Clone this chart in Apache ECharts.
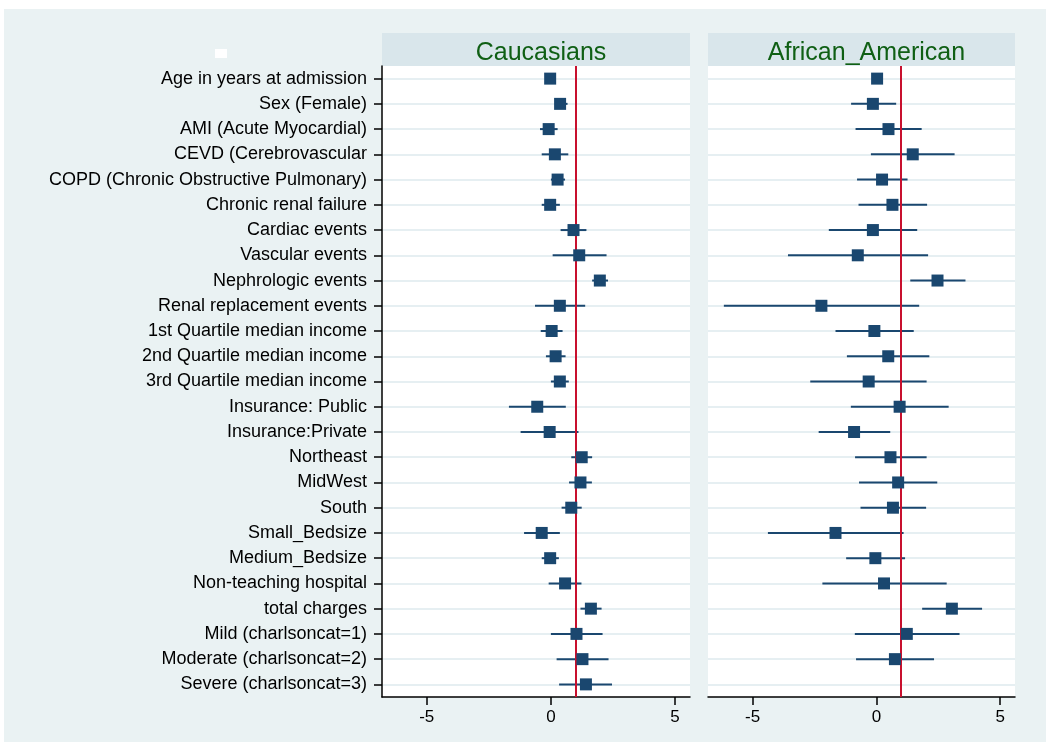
<!DOCTYPE html>
<html>
<head>
<meta charset="utf-8">
<script src="https://cdn.jsdelivr.net/npm/echarts@6/dist/echarts.min.js"></script>
<style>
  html, body { margin: 0; padding: 0; background: #fff; }
  #chart { width: 1050px; height: 749px; }
</style>
</head>
<body>
<div id="chart"></div>
<script>
// row labels, top to bottom
var variables = [
  'Age in years at admission', 'Sex (Female)', 'AMI (Acute Myocardial)', 'CEVD (Cerebrovascular',
  'COPD (Chronic Obstructive Pulmonary)', 'Chronic renal failure', 'Cardiac events', 'Vascular events',
  'Nephrologic events', 'Renal replacement events', '1st Quartile median income', '2nd Quartile median income',
  '3rd Quartile median income', 'Insurance: Public', 'Insurance:Private', 'Northeast', 'MidWest', 'South',
  'Small_Bedsize', 'Medium_Bedsize', 'Non-teaching hospital', 'total charges', 'Mild (charlsoncat=1)',
  'Moderate (charlsoncat=2)', 'Severe (charlsoncat=3)'
];

// Caucasians
var cauEst  = [-0.03, 0.37, -0.09, 0.16, 0.27, -0.03, 0.91, 1.14, 1.97, 0.36, 0.03, 0.19, 0.36, -0.55, -0.05, 1.24, 1.19, 0.82, -0.37, -0.03, 0.57, 1.61, 1.03, 1.27, 1.41];
var cauLow  = [-0.08, 0.16, -0.44, -0.37, 0.00, -0.37, 0.39, 0.07, 1.66, -0.64, -0.41, -0.20, 0.00, -1.69, -1.22, 0.82, 0.73, 0.43, -1.08, -0.37, -0.09, 1.19, 0.00, 0.23, 0.33];
var cauHigh = [0.02, 0.67, 0.27, 0.70, 0.57, 0.36, 1.43, 2.24, 2.30, 1.38, 0.47, 0.59, 0.72, 0.60, 1.11, 1.66, 1.65, 1.24, 0.36, 0.32, 1.23, 2.04, 2.08, 2.32, 2.46];

// African_American (last row not estimated)
var afrEst  = [0.03, -0.14, 0.49, 1.47, 0.23, 0.65, -0.14, -0.75, 2.47, -2.22, -0.08, 0.48, -0.31, 0.94, -0.90, 0.57, 0.88, 0.67, -1.65, -0.04, 0.31, 3.05, 1.23, 0.75, null];
var afrLow  = [-0.02, -1.02, -0.84, -0.22, -0.78, -0.72, -1.92, -3.57, 1.37, -6.16, -1.65, -1.19, -2.67, -1.03, -2.33, -0.86, -0.70, -0.64, -4.38, -1.22, -2.18, 1.85, -0.87, -0.82, null];
var afrHigh = [0.08, 0.80, 1.83, 3.16, 1.26, 2.05, 1.65, 2.09, 3.60, 1.73, 1.51, 2.14, 2.03, 2.92, 0.56, 2.03, 2.46, 2.01, 1.10, 1.16, 2.84, 4.27, 3.36, 2.33, null];

var panelTitles = ['Caucasians', 'African_American'];
var xTicks = [-5, 0, 5];
var refValue = 1;

var navy = '#1a476f';
var font = 'Liberation Sans, Arial, sans-serif';

function ciData(low, high) {
  var out = [];
  for (var i = 0; i < low.length; i++) {
    if (low[i] != null) out.push([low[i], high[i], i]);
  }
  return out;
}
function pointData(est) {
  var out = [];
  for (var i = 0; i < est.length; i++) {
    if (est[i] != null) out.push([est[i], i]);
  }
  return out;
}
function renderCI(params, api) {
  var a = api.coord([api.value(0), api.value(2)]);
  var b = api.coord([api.value(1), api.value(2)]);
  return {
    type: 'line',
    shape: { x1: a[0], y1: a[1], x2: b[0], y2: b[1] },
    style: { stroke: navy, lineWidth: 2 }
  };
}

var panels = [
  { est: cauEst, low: cauLow, high: cauHigh, left: 382, right: 360 },
  { est: afrEst, low: afrLow, high: afrHigh, left: 708, right: 35 }
];

var grids = [], xAxes = [], yAxes = [], series = [], titles = [], strips = [];
panels.forEach(function (p, k) {
  grids.push({
    left: p.left, right: p.right, top: 66, bottom: 52,
    show: true, backgroundColor: '#fff', borderWidth: 0
  });
  xAxes.push({
    gridIndex: k, type: 'value', min: -6.8, max: 5.6,
    axisLine: { show: true, onZero: false, lineStyle: { color: '#000', width: 1.5 } },
    axisTick: { show: true, customValues: xTicks, length: 8, lineStyle: { color: '#000', width: 1.5 } },
    axisLabel: { customValues: xTicks, color: '#000', fontSize: 17, fontFamily: font, margin: 12 },
    splitLine: { show: false }
  });
  yAxes.push({
    gridIndex: k, type: 'category', inverse: true, data: variables,
    axisLine: { show: k === 0, onZero: false, lineStyle: { color: '#000', width: 1.5 } },
    axisTick: { show: k === 0, alignWithLabel: true, length: 8, lineStyle: { color: '#000', width: 1.5 } },
    axisLabel: { show: k === 0, color: '#000', fontSize: 18, fontFamily: font, margin: 15, interval: 0 },
    splitLine: { show: true, alignWithLabel: true, interval: 0, lineStyle: { color: '#e6eff2', width: 2 } }
  });
  series.push({
    type: 'custom', xAxisIndex: k, yAxisIndex: k, z: 2,
    renderItem: renderCI,
    encode: { x: [0, 1], y: 2 },
    data: ciData(p.low, p.high),
    silent: true
  });
  series.push({
    type: 'scatter', xAxisIndex: k, yAxisIndex: k, z: 10,
    symbol: 'rect', symbolSize: 12,
    itemStyle: { color: navy, opacity: 1 },
    data: pointData(p.est),
    silent: true,
    markLine: {
      silent: true, symbol: 'none', label: { show: false }, z: 3,
      lineStyle: { color: '#c8102e', width: 2, type: 'solid' },
      data: [{ xAxis: refValue }]
    }
  });
  var w = 1050 - p.left - p.right;
  strips.push({
    type: 'rect', left: p.left, top: 33, z: -1,
    shape: { width: w, height: 33 },
    style: { fill: '#d9e6eb' }
  });
  titles.push({
    text: panelTitles[k], left: p.left + w / 2, top: 36, textAlign: 'center',
    textStyle: { color: '#0f5f14', fontSize: 25, fontWeight: 'normal', fontFamily: font }
  });
});

var chart = echarts.init(document.getElementById('chart'));
chart.setOption({
  animation: false,
  backgroundColor: '#fff',
  title: titles,
  graphic: [
    { type: 'rect', left: 4, top: 9, z: -10, shape: { width: 1042, height: 733 }, style: { fill: '#eaf2f3' } },
    { type: 'rect', left: 215, top: 49, z: -5, shape: { width: 12, height: 9 }, style: { fill: '#fff' } }
  ].concat(strips),
  grid: grids,
  xAxis: xAxes,
  yAxis: yAxes,
  series: series
});
</script>
</body>
</html>
